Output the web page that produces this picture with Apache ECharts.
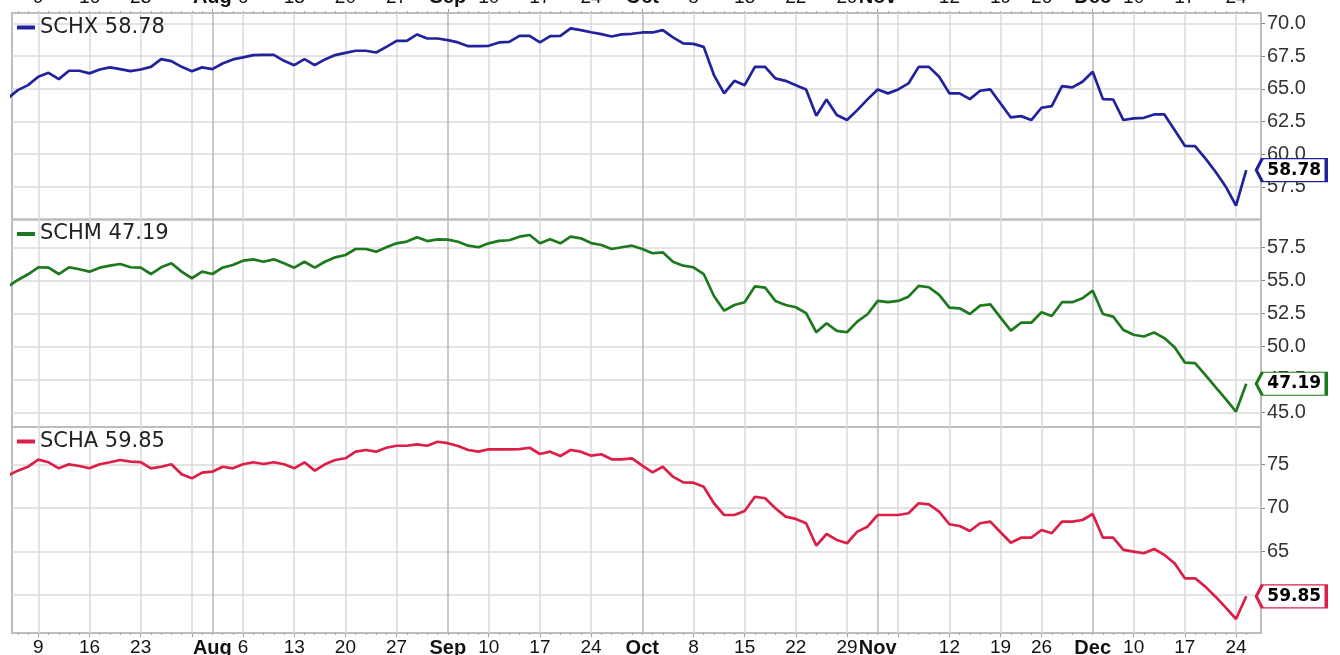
<!DOCTYPE html>
<html>
<head>
<meta charset="utf-8">
<title>SCHX / SCHM / SCHA</title>
<script src="https://cdn.jsdelivr.net/npm/echarts@6/dist/echarts.min.js"></script>
<style>
  html, body { margin: 0; padding: 0; background: #fff; }
  #chart { width: 1340px; height: 655px; }
</style>
</head>
<body>
<div id="chart"></div>
<script>
// trading days, 2018 (MM-DD)
var tradingDays = [
  '07-03', '07-05', '07-06', '07-09', '07-10', '07-11', '07-12', '07-13', '07-16', '07-17',
  '07-18', '07-19', '07-20', '07-23', '07-24', '07-25', '07-26', '07-27', '07-30', '07-31',
  '08-01', '08-02', '08-03', '08-06', '08-07', '08-08', '08-09', '08-10', '08-13', '08-14',
  '08-15', '08-16', '08-17', '08-20', '08-21', '08-22', '08-23', '08-24', '08-27', '08-28',
  '08-29', '08-30', '08-31', '09-04', '09-05', '09-06', '09-07', '09-10', '09-11', '09-12',
  '09-13', '09-14', '09-17', '09-18', '09-19', '09-20', '09-21', '09-24', '09-25', '09-26',
  '09-27', '09-28', '10-01', '10-02', '10-03', '10-04', '10-05', '10-08', '10-09', '10-10',
  '10-11', '10-12', '10-15', '10-16', '10-17', '10-18', '10-19', '10-22', '10-23', '10-24',
  '10-25', '10-26', '10-29', '10-30', '10-31', '11-01', '11-02', '11-05', '11-06', '11-07',
  '11-08', '11-09', '11-12', '11-13', '11-14', '11-15', '11-16', '11-19', '11-20', '11-21',
  '11-23', '11-26', '11-27', '11-28', '11-29', '11-30', '12-03', '12-04', '12-06', '12-07',
  '12-10', '12-11', '12-12', '12-13', '12-14', '12-17', '12-18', '12-19', '12-20', '12-21',
  '12-24', '12-26'
];

var schx = [
  64.27, 64.90, 65.28, 65.92, 66.22, 65.74, 66.38, 66.38, 66.18, 66.48,
  66.64, 66.51, 66.35, 66.48, 66.68, 67.27, 67.12, 66.68, 66.35, 66.64,
  66.51, 66.94, 67.25, 67.40, 67.58, 67.60, 67.60, 67.14, 66.81, 67.27,
  66.81, 67.25, 67.58, 67.75, 67.91, 67.91, 67.78, 68.21, 68.67, 68.67,
  69.16, 68.85, 68.85, 68.72, 68.55, 68.26, 68.26, 68.29, 68.55, 68.59,
  69.05, 69.05, 68.55, 69.03, 69.05, 69.62, 69.49, 69.33, 69.18, 69.00,
  69.16, 69.21, 69.31, 69.31, 69.49, 68.93, 68.47, 68.44, 68.21, 66.05,
  64.65, 65.61, 65.28, 66.68, 66.68, 65.80, 65.61, 65.28, 64.95, 62.94,
  64.19, 62.99, 62.61, 63.37, 64.19, 64.95, 64.65, 64.95, 65.41, 66.68,
  66.68, 65.92, 64.65, 64.65, 64.21, 64.85, 64.95, 63.88, 62.81, 62.91,
  62.61, 63.55, 63.68, 65.21, 65.11, 65.54, 66.30, 64.21, 64.18, 62.61,
  62.74, 62.78, 63.04, 63.04, 61.84, 60.64, 60.62, 59.68, 58.65, 57.51,
  56.06, 58.78
];

var schm = [
  54.52, 55.03, 55.46, 55.99, 55.96, 55.48, 55.99, 55.84, 55.66, 55.96,
  56.11, 56.24, 55.99, 55.96, 55.48, 55.99, 56.29, 55.66, 55.16, 55.66,
  55.48, 55.96, 56.16, 56.49, 56.59, 56.41, 56.59, 56.29, 55.96, 56.41,
  55.96, 56.41, 56.74, 56.92, 57.37, 57.37, 57.17, 57.50, 57.80, 57.93,
  58.26, 57.97, 58.10, 58.08, 57.92, 57.62, 57.50, 57.80, 57.98, 58.03,
  58.30, 58.43, 57.80, 58.10, 57.80, 58.30, 58.18, 57.82, 57.67, 57.37,
  57.50, 57.62, 57.37, 57.05, 57.12, 56.41, 56.11, 55.99, 55.48, 53.82,
  52.71, 53.14, 53.35, 54.55, 54.45, 53.45, 53.14, 52.97, 52.52, 51.08,
  51.76, 51.18, 51.08, 51.88, 52.44, 53.45, 53.35, 53.45, 53.77, 54.58,
  54.48, 53.90, 52.94, 52.89, 52.46, 53.09, 53.19, 52.18, 51.20, 51.80,
  51.80, 52.59, 52.31, 53.35, 53.35, 53.65, 54.22, 52.46, 52.26, 51.25,
  50.89, 50.76, 51.06, 50.64, 49.95, 48.79, 48.74, 47.86, 46.93, 46.02,
  45.09, 47.19
];

var scha = [
  73.69, 74.27, 74.72, 75.53, 75.23, 74.54, 75.00, 74.80, 74.54, 75.00,
  75.23, 75.49, 75.30, 75.26, 74.54, 74.72, 75.00, 73.85, 73.39, 74.04,
  74.15, 74.72, 74.54, 75.00, 75.23, 75.03, 75.23, 75.00, 74.54, 75.23,
  74.27, 75.00, 75.49, 75.69, 76.45, 76.64, 76.45, 76.90, 77.13, 77.13,
  77.29, 77.13, 77.59, 77.42, 77.10, 76.64, 76.45, 76.72, 76.72, 76.72,
  76.75, 76.90, 76.18, 76.45, 75.95, 76.64, 76.45, 75.99, 76.15, 75.57,
  75.57, 75.69, 74.84, 74.08, 74.72, 73.58, 72.93, 72.89, 72.43, 70.53,
  69.18, 69.18, 69.64, 71.28, 71.10, 69.95, 68.99, 68.73, 68.23, 65.66,
  67.00, 66.32, 65.94, 67.27, 67.84, 69.18, 69.18, 69.18, 69.38, 70.53,
  70.41, 69.56, 68.12, 67.92, 67.35, 68.23, 68.42, 67.20, 66.00, 66.58,
  66.58, 67.46, 67.09, 68.42, 68.42, 68.61, 69.30, 66.58, 66.58, 65.17,
  64.98, 64.79, 65.28, 64.60, 63.64, 61.92, 61.92, 60.96, 59.81, 58.55,
  57.25, 59.85
];

var yTicksSchx = [57.5, 60, 62.5, 65, 67.5, 70];
var yTicksSchm = [45, 47.5, 50, 52.5, 55, 57.5];
var yTicksScha = [60, 65, 70, 75];
var monthNames = ['Jan', 'Feb', 'Mar', 'Apr', 'May', 'Jun', 'Jul', 'Aug', 'Sep', 'Oct', 'Nov', 'Dec'];
var hiddenDayLabels = ['07-30', '11-05'];  // crowded out by the month names

var year = 2018;
function dateOf(s) {
  var p = s.split('-');
  return new Date(year, +p[0] - 1, +p[1]);
}

// month lines (dark) and week lines (light)
var monthStarts = [], weekStarts = [], allDays = [];
for (var i = 0; i < tradingDays.length; i++) {
  allDays.push(i);
  if (i === 0) continue;
  var d = dateOf(tradingDays[i]), prev = dateOf(tradingDays[i - 1]);
  if (d.getMonth() !== prev.getMonth()) {
    monthStarts.push(i);
  } else if (d.getDay() <= prev.getDay()) {
    weekStarts.push(i);
  }
}
var labelIdx = monthStarts.concat(weekStarts.filter(function (i) {
  return hiddenDayLabels.indexOf(tradingDays[i]) < 0;
})).sort(function (a, b) { return a - b; });

function dateLabel(v) {
  var i = Math.round(v);
  var d = dateOf(tradingDays[i]);
  if (monthStarts.indexOf(i) >= 0) {
    return '{m|' + monthNames[d.getMonth()] + '}';
  }
  return String(d.getDate());
}

var xMin = 0.43, xMax = 122.44;
var labelFont = 'Liberation Sans, Arial, sans-serif';

var panels = [
  {name: 'SCHX', values: schx, color: '#22229c', top: 13, height: 206.5, min: 55, max: 70.8, ticks: yTicksSchx, digits: 1},
  {name: 'SCHM', values: schm, color: '#1e781e', top: 219.5, height: 207.5, min: 43.92, max: 59.6, ticks: yTicksSchm, digits: 1},
  {name: 'SCHA', values: scha, color: '#dc1f48', top: 427, height: 206, min: 55.64, max: 79.28, ticks: yTicksScha, digits: 0}
];

var grids = [], xAxes = [], yAxes = [], series = [], legends = [];
var dateLabelStyle = {
  show: true,
  customValues: labelIdx,
  formatter: dateLabel,
  fontFamily: labelFont,
  fontSize: 19,
  color: '#111',
  margin: 5,
  rich: {m: {fontFamily: labelFont, fontSize: 20, fontWeight: 'bold', color: '#111'}}
};

panels.forEach(function (p, k) {
  grids.push({
    left: 12, right: 79, top: p.top, height: p.height,
    show: true, borderColor: '#bdbdbd', borderWidth: 2,
    containLabel: false, outerBoundsMode: 'none'
  });

  // weekly grid lines (series are drawn on this axis)
  var weekIdx = xAxes.length;
  xAxes.push({
    type: 'value', gridIndex: k, position: 'bottom', min: xMin, max: xMax,
    axisLine: {show: false},
    axisTick: {show: k === 2, customValues: weekStarts, length: 4, lineStyle: {color: '#999'}},
    axisLabel: k === 2 ? dateLabelStyle : {show: false},
    splitLine: {show: true, lineStyle: {color: '#dadada', width: 1.5}}
  });
  // month grid lines
  xAxes.push({
    type: 'value', gridIndex: k, position: 'top', min: xMin, max: xMax,
    axisLine: {show: false},
    axisTick: {show: k === 0, customValues: monthStarts, length: 4, lineStyle: {color: '#999'}},
    axisLabel: k === 0 ? Object.assign({}, dateLabelStyle, {margin: 6}) : {show: false},
    splitLine: {show: true, lineStyle: {color: '#b8b8b8', width: 1.5}}
  });
  // daily ticks on the outer edges
  if (k !== 1) {
    xAxes.push({
      type: 'value', gridIndex: k, position: k === 0 ? 'top' : 'bottom', min: xMin, max: xMax,
      axisLine: {show: false},
      axisTick: {show: true, customValues: allDays, length: 2, lineStyle: {color: '#aaa'}},
      axisLabel: {show: false},
      splitLine: {show: false}
    });
  }

  yAxes.push({
    type: 'value', gridIndex: k, position: 'right', min: p.min, max: p.max,
    axisLine: {show: false},
    axisTick: {show: true, customValues: p.ticks, length: 4, lineStyle: {color: '#888'}},
    axisLabel: {
      customValues: p.ticks, margin: 6, fontFamily: labelFont, fontSize: 20, color: '#333',
      formatter: (function (dg) { return function (v) { return v.toFixed(dg); }; })(p.digits)
    },
    splitLine: {show: true, lineStyle: {color: '#dadada', width: 1.5}}
  });

  var last = p.values[p.values.length - 1];
  series.push({
    type: 'line', name: p.name, xAxisIndex: weekIdx, yAxisIndex: k,
    data: p.values.map(function (v, i) { return [i, v]; }),
    showSymbol: false, symbol: 'none', clip: true, z: 3,
    lineStyle: {color: p.color, width: 2.7},
    itemStyle: {color: p.color}
  });
  // last value tag on the right
  series.push({
    type: 'scatter', name: p.name + ' last', xAxisIndex: weekIdx, yAxisIndex: k,
    data: [[p.values.length - 1, last]],
    symbol: 'path://M0,11.5L6,0L70,0L70,23L6,23Z',
    symbolSize: [70, 23], symbolOffset: [45, 0],
    itemStyle: {color: '#fff', borderColor: p.color, borderWidth: 2, opacity: 1},
    label: {
      show: true, position: 'inside', offset: [3, 0], formatter: last.toFixed(2),
      fontFamily: 'DejaVu Sans', fontWeight: 'bold', fontSize: 17, color: '#000'
    },
    emphasis: {disabled: true},
    clip: false, silent: true, z: 6
  });

  legends.push({
    data: [p.name], left: 17, top: p.top + 4, padding: 0,
    icon: 'rect', itemWidth: 18, itemHeight: 4, selectedMode: false,
    textStyle: {fontFamily: 'DejaVu Sans', fontSize: 21, color: '#222'},
    formatter: function (n) { return n + ' ' + last.toFixed(2); }
  });
});

var chart = echarts.init(document.getElementById('chart'));
chart.setOption({
  backgroundColor: '#fff',
  animation: false,
  grid: grids,
  xAxis: xAxes,
  yAxis: yAxes,
  legend: legends,
  series: series
});
</script>
</body>
</html>
